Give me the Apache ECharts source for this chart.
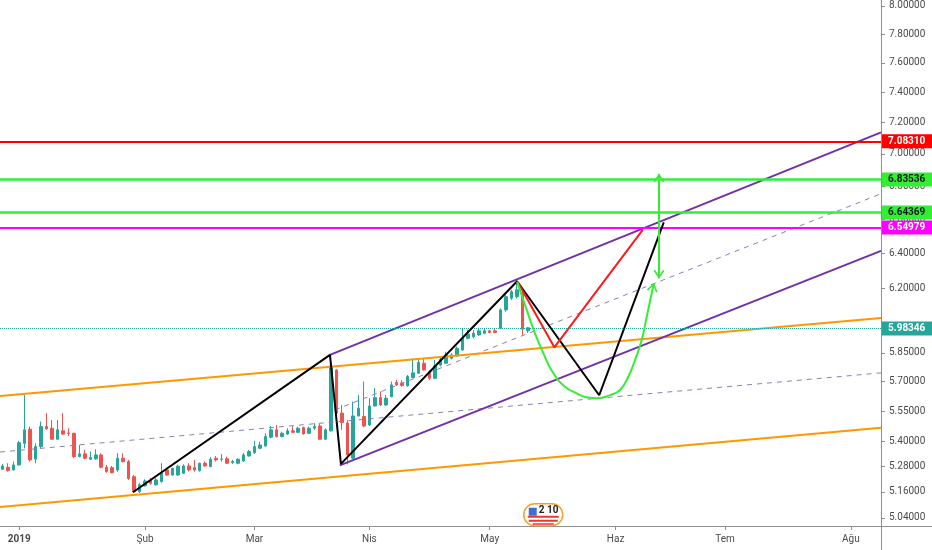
<!DOCTYPE html>
<html>
<head>
<meta charset="utf-8">
<script src="https://cdn.jsdelivr.net/npm/echarts@6/dist/echarts.min.js"></script>
<style>
html, body { margin: 0; padding: 0; background: #fff; }
#main { width: 932px; height: 550px; }
</style>
</head>
<body>
<div id="main"></div>
<script>
var myChart = echarts.init(document.getElementById('main'));

// weekday bars, starting a few days before 2019
var dates = [];
var d = new Date(Date.UTC(2018, 11, 27));
while (dates.length < 161) {
	var wd = d.getUTCDay();
	if (wd !== 0 && wd !== 6) dates.push(d.toISOString().slice(0, 10));
	d.setUTCDate(d.getUTCDate() + 1);
}
var monthNames = ['2019', 'Şub', 'Mar', 'Nis', 'May', 'Haz', 'Tem', 'Ağu'];

// daily candles [open, close, low, high]
var ohlc = [
	[5.266, 5.282, 5.263, 5.292], [5.276, 5.260, 5.255, 5.295], [5.263, 5.287, 5.260, 5.303],
	[5.287, 5.394, 5.284, 5.403], [5.391, 5.457, 5.367, 5.631], [5.460, 5.311, 5.303, 5.473],
	[5.315, 5.375, 5.295, 5.391], [5.375, 5.473, 5.367, 5.498], [5.473, 5.462, 5.457, 5.540],
	[5.465, 5.411, 5.408, 5.506], [5.411, 5.457, 5.408, 5.506], [5.452, 5.436, 5.432, 5.540],
	[5.442, 5.439, 5.427, 5.465], [5.440, 5.327, 5.319, 5.443], [5.327, 5.340, 5.324, 5.383],
	[5.340, 5.319, 5.314, 5.359], [5.314, 5.322, 5.311, 5.351], [5.316, 5.335, 5.311, 5.362],
	[5.335, 5.276, 5.271, 5.343], [5.276, 5.255, 5.250, 5.287], [5.274, 5.250, 5.247, 5.282],
	[5.263, 5.319, 5.255, 5.343], [5.319, 5.303, 5.298, 5.343], [5.303, 5.223, 5.216, 5.311],
	[5.231, 5.161, 5.156, 5.239], [5.161, 5.193, 5.155, 5.202], [5.188, 5.211, 5.185, 5.219],
	[5.213, 5.200, 5.193, 5.225], [5.193, 5.216, 5.188, 5.225], [5.208, 5.247, 5.203, 5.295],
	[5.263, 5.239, 5.235, 5.271], [5.239, 5.271, 5.236, 5.274], [5.239, 5.281, 5.235, 5.287],
	[5.247, 5.282, 5.244, 5.290], [5.282, 5.263, 5.255, 5.295], [5.274, 5.263, 5.255, 5.311],
	[5.260, 5.295, 5.255, 5.298], [5.295, 5.282, 5.279, 5.303], [5.279, 5.314, 5.276, 5.324],
	[5.319, 5.311, 5.303, 5.330], [5.314, 5.315, 5.303, 5.339], [5.316, 5.295, 5.292, 5.326],
	[5.298, 5.303, 5.292, 5.311], [5.295, 5.314, 5.290, 5.319], [5.306, 5.335, 5.301, 5.344],
	[5.330, 5.351, 5.327, 5.359], [5.346, 5.375, 5.340, 5.403], [5.367, 5.383, 5.362, 5.399],
	[5.378, 5.424, 5.375, 5.440], [5.421, 5.457, 5.416, 5.476], [5.457, 5.424, 5.419, 5.481],
	[5.424, 5.440, 5.421, 5.448], [5.436, 5.452, 5.432, 5.465], [5.452, 5.445, 5.443, 5.476],
	[5.445, 5.465, 5.440, 5.473], [5.468, 5.437, 5.434, 5.473], [5.440, 5.465, 5.436, 5.473],
	[5.465, 5.473, 5.457, 5.490], [5.476, 5.411, 5.408, 5.486], [5.411, 5.457, 5.408, 5.465],
	[5.452, 5.781, 5.448, 5.839], [5.760, 5.540, 5.531, 5.764], [5.540, 5.493, 5.457, 5.581],
	[5.491, 5.335, 5.290, 5.506], [5.319, 5.526, 5.314, 5.598], [5.526, 5.565, 5.523, 5.631],
	[5.523, 5.476, 5.470, 5.700], [5.481, 5.576, 5.476, 5.615], [5.576, 5.618, 5.573, 5.666],
	[5.618, 5.581, 5.576, 5.649], [5.581, 5.615, 5.576, 5.631], [5.623, 5.683, 5.620, 5.700],
	[5.695, 5.683, 5.678, 5.708], [5.693, 5.680, 5.673, 5.708], [5.678, 5.726, 5.674, 5.734],
	[5.721, 5.745, 5.717, 5.821], [5.743, 5.799, 5.739, 5.821], [5.795, 5.760, 5.757, 5.821],
	[5.752, 5.717, 5.708, 5.760], [5.717, 5.781, 5.712, 5.812], [5.786, 5.816, 5.778, 5.830],
	[5.795, 5.839, 5.792, 5.856], [5.821, 5.839, 5.816, 5.848], [5.834, 5.874, 5.830, 5.883],
	[5.865, 5.927, 5.861, 5.981], [5.927, 5.950, 5.922, 5.972], [5.936, 5.954, 5.927, 5.972],
	[5.945, 5.967, 5.940, 5.984], [5.954, 5.967, 5.949, 5.981], [5.967, 5.958, 5.954, 5.972],
	[5.967, 5.958, 5.954, 5.981], [5.981, 6.081, 5.976, 6.090], [6.081, 6.154, 6.071, 6.163],
	[6.145, 6.182, 6.136, 6.192], [6.154, 6.192, 6.145, 6.240], [6.173, 5.976, 5.945, 6.192],
	[5.967, 5.98346, 5.956, 5.988]
];

var yTicks = [5.04, 5.16, 5.28, 5.40, 5.55, 5.70, 5.85, 6.20, 6.40, 6.60, 6.80, 7.00, 7.20, 7.40, 7.60, 7.80, 8.00];

// horizontal levels
var levelValues = [7.08310, 6.83536, 6.64369, 6.54979];
var levelColors = ['#ff0000', '#33ee33', '#33ee33', '#ff00ff'];
var levelText = ['#ffffff', '#131722', '#131722', '#ffffff'];
var lastPrice = 5.98346;

// drawings: [bar index, price]
var orangeUpper = [[-0.5, 5.626], [160.5, 6.037]];
var orangeLower = [[-0.5, 5.090], [160.5, 5.467]];
var purpleUpper = [[59.8, 5.839], [160.5, 7.138]];
var purpleLower = [[61.6, 5.285], [160.5, 6.414]];
var dashLower = [[-0.5, 5.349], [160.5, 5.745]];
var dashUpper = [[60.7, 5.556], [160.5, 6.753]];
var blackPath = [[23.8, 5.158], [59.8, 5.839], [61.8, 5.292], [94.0, 6.240], [109.0, 5.630], [120.8, 6.581]];
var redPath = [[94.1, 6.236], [100.8, 5.879], [116.95, 6.536]];
var greenCurve = [
	[94.0, 6.238], [95.75, 6.081], [97.27, 5.954], [98.79, 5.848], [100.62, 5.743],
	[102.75, 5.674], [104.89, 5.640], [106.72, 5.620], [108.66, 5.615], [110.98, 5.631],
	[112.8, 5.657], [114.32, 5.725], [115.55, 5.812], [116.77, 5.918], [117.69, 6.044],
	[118.6, 6.173], [119.02, 6.229]
];
var greenArrow = [[119.93, 6.875], [119.93, 6.257]];

var chevron = 'path://M0,9 L5,0 L10,9 L8.6,10 L5,2.8 L1.4,10 Z';

function drawing(data, color, width, type, z) {
	return {
		type: 'line',
		xAxisIndex: 1,
		data: data,
		symbol: 'none',
		lineStyle: { color: color, width: width, type: type || 'solid' },
		z: z || 4,
		silent: true
	};
}

var levelLines = levelValues.map(function (v, i) {
	return {
		name: v.toFixed(5),
		yAxis: v,
		lineStyle: { color: levelColors[i], width: i === 1 || i === 2 ? 2.5 : 2, type: 'solid' },
		label: { backgroundColor: levelColors[i], color: levelText[i] }
	};
});
levelLines.push({
	name: lastPrice.toFixed(5),
	yAxis: lastPrice,
	lineStyle: { color: '#26a69a', width: 1, type: 'dotted' },
	label: { backgroundColor: '#26a69a', color: '#ffffff' }
});

var greenCurveData = greenCurve.map(function (p, i) {
	if (i === greenCurve.length - 1) {
		return { value: p, symbol: chevron, symbolSize: [11, 9], symbolRotate: -12, symbolOffset: [-1, 4] };
	}
	return p;
});
var greenArrowData = [
	{ value: greenArrow[0], symbol: chevron, symbolSize: [11, 9], symbolOffset: [0, 4] },
	{ value: greenArrow[1], symbol: chevron, symbolSize: [11, 9], symbolRotate: 180, symbolOffset: [0, -4] }
];

var font = 'Roboto';

option = {
	backgroundColor: '#ffffff',
	animation: false,
	grid: { left: 0, right: 51, top: 0, bottom: 24, outerBoundsMode: 'none' },
	xAxis: [{
		type: 'category',
		data: dates,
		axisLine: { show: false, onZero: false },
		axisTick: {
			show: true,
			alignWithLabel: true,
			length: 4,
			lineStyle: { color: '#8f8f8f' },
			interval: function (i, v) { return i > 0 && v.slice(5, 7) !== dates[i - 1].slice(5, 7); }
		},
		axisLabel: {
			interval: function (i, v) { return i > 0 && v.slice(5, 7) !== dates[i - 1].slice(5, 7); },
			formatter: function (v) {
				var m = parseInt(v.slice(5, 7), 10) - 1;
				return m === 0 ? '{y|' + monthNames[0] + '}' : monthNames[m];
			},
			rich: { y: { fontWeight: 'bold', fontSize: 10, color: '#4a4a4a', fontFamily: font } },
			color: '#4a4a4a',
			fontSize: 10,
			fontFamily: font,
			margin: 8
		},
		splitLine: { show: false }
	}, {
		type: 'value',
		min: -0.5,
		max: 160.5,
		show: false,
		axisLine: { onZero: false }
	}],
	yAxis: {
		type: 'log',
		position: 'right',
		min: 5.0034,
		max: 8.0434,
		axisLine: { show: false, onZero: false },
		axisTick: { show: true, length: 4, lineStyle: { color: '#8f8f8f' }, customValues: yTicks },
		axisLabel: {
			customValues: yTicks,
			formatter: function (v) { return Number(v).toFixed(5); },
			color: '#4a4a4a',
			fontSize: 10,
			fontFamily: font,
			margin: 8
		},
		splitLine: { show: false }
	},
	graphic: [
		{ type: 'line', shape: { x1: 0, y1: 526.5, x2: 932, y2: 526.5 }, style: { stroke: '#8f8f8f', lineWidth: 1 }, silent: true },
		{ type: 'line', shape: { x1: 881.5, y1: 0, x2: 881.5, y2: 550 }, style: { stroke: '#8f8f8f', lineWidth: 1 }, silent: true },
		{
			type: 'group', left: 523, top: 503, silent: true,
			children: [
				{ type: 'rect', shape: { x: 0, y: 0, width: 39, height: 22, r: 11 }, style: { fill: '#ffffff', stroke: '#f0a030', lineWidth: 1.5 } },
				{ type: 'rect', shape: { x: 4, y: 12, width: 31, height: 2 }, style: { fill: '#e53935' } },
				{ type: 'rect', shape: { x: 5, y: 16, width: 29, height: 2 }, style: { fill: '#e53935' } },
				{ type: 'rect', shape: { x: 9, y: 19.5, width: 21, height: 1.5 }, style: { fill: '#e53935' } },
				{ type: 'rect', shape: { x: 5, y: 4, width: 8, height: 8 }, style: { fill: '#3d6fd1' } },
				{ type: 'text', style: { text: '2 10', x: 15, y: 2, fill: '#222222', font: 'bold 10px Roboto' } }
			]
		}
	],
	series: [
		{
			type: 'candlestick',
			xAxisIndex: 0,
			data: ohlc,
			barWidth: 3,
			itemStyle: {
				color: '#26a69a',
				color0: '#ef5350',
				borderColor: '#26a69a',
				borderColor0: '#ef5350',
				borderWidth: 1
			},
			z: 2,
			markLine: {
				silent: true,
				symbol: ['none', 'none'],
				label: {
					position: 'end',
					distance: 1,
					formatter: '{b}',
					fontSize: 10,
					fontFamily: font,
					fontWeight: 'bold',
					padding: [2, 7, 2, 6]
				},
				data: levelLines
			}
		},
		drawing(orangeUpper, '#ff9800', 2),
		drawing(orangeLower, '#ff9800', 2),
		drawing(dashLower, '#8a7fb8', 1, [5, 5], 3),
		drawing(dashUpper, '#8a7fb8', 1, [5, 5], 3),
		drawing(purpleUpper, '#7030a8', 2),
		drawing(purpleLower, '#7030a8', 2),
		drawing(blackPath, '#000000', 2, 'solid', 5),
		drawing(redPath, '#ff1a1a', 2, 'solid', 5),
		{
			type: 'line', xAxisIndex: 1, data: greenCurveData, smooth: 0.5,
			symbol: 'none', itemStyle: { color: '#33ee33' },
			lineStyle: { color: '#33ee33', width: 2 }, z: 6, silent: true
		},
		{
			type: 'line', xAxisIndex: 1, data: greenArrowData,
			symbol: 'none', itemStyle: { color: '#33ee33' },
			lineStyle: { color: '#33ee33', width: 2 }, z: 6, silent: true
		}
	]
};
myChart.setOption(option);
</script>
</body>
</html>
